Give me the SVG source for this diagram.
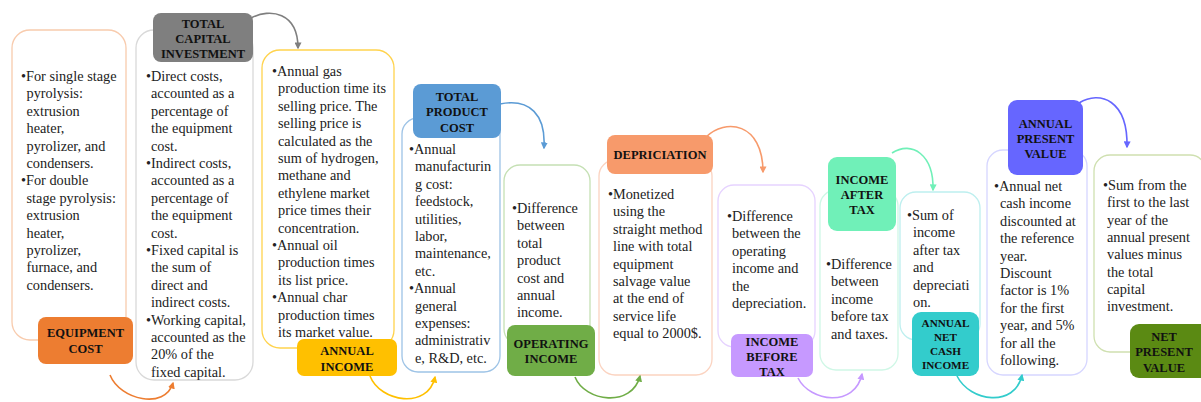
<svg xmlns="http://www.w3.org/2000/svg" width="1201" height="402" viewBox="0 0 1201 402">
<defs>
<style>
.panel{fill:#fff;stroke-width:1.3}
.t{font-family:"Liberation Serif","Times New Roman",serif;font-size:14.3px;fill:#222}
.lb{font-family:"Liberation Serif","Times New Roman",serif;font-size:12.5px;font-weight:bold;fill:#111;text-anchor:middle}
.c{fill:none;stroke-width:1.6}
</style>
<marker id="m1" viewBox="0 0 10 10" refX="8" refY="5" markerWidth="7" markerHeight="7" markerUnits="userSpaceOnUse" orient="auto"><path d="M0,0L10,5L0,10z" fill="#ED7D31"/></marker>
<marker id="m2" viewBox="0 0 10 10" refX="8" refY="5" markerWidth="7" markerHeight="7" markerUnits="userSpaceOnUse" orient="auto"><path d="M0,0L10,5L0,10z" fill="#7F7F7F"/></marker>
<marker id="m3" viewBox="0 0 10 10" refX="8" refY="5" markerWidth="7" markerHeight="7" markerUnits="userSpaceOnUse" orient="auto"><path d="M0,0L10,5L0,10z" fill="#FFC000"/></marker>
<marker id="m4" viewBox="0 0 10 10" refX="8" refY="5" markerWidth="7" markerHeight="7" markerUnits="userSpaceOnUse" orient="auto"><path d="M0,0L10,5L0,10z" fill="#5B9BD5"/></marker>
<marker id="m5" viewBox="0 0 10 10" refX="8" refY="5" markerWidth="7" markerHeight="7" markerUnits="userSpaceOnUse" orient="auto"><path d="M0,0L10,5L0,10z" fill="#70AD47"/></marker>
<marker id="m6" viewBox="0 0 10 10" refX="8" refY="5" markerWidth="7" markerHeight="7" markerUnits="userSpaceOnUse" orient="auto"><path d="M0,0L10,5L0,10z" fill="#F79A6B"/></marker>
<marker id="m7" viewBox="0 0 10 10" refX="8" refY="5" markerWidth="7" markerHeight="7" markerUnits="userSpaceOnUse" orient="auto"><path d="M0,0L10,5L0,10z" fill="#C699FF"/></marker>
<marker id="m8" viewBox="0 0 10 10" refX="8" refY="5" markerWidth="7" markerHeight="7" markerUnits="userSpaceOnUse" orient="auto"><path d="M0,0L10,5L0,10z" fill="#70F0B8"/></marker>
<marker id="m9" viewBox="0 0 10 10" refX="8" refY="5" markerWidth="7" markerHeight="7" markerUnits="userSpaceOnUse" orient="auto"><path d="M0,0L10,5L0,10z" fill="#33CCCC"/></marker>
<marker id="m10" viewBox="0 0 10 10" refX="8" refY="5" markerWidth="7" markerHeight="7" markerUnits="userSpaceOnUse" orient="auto"><path d="M0,0L10,5L0,10z" fill="#6666FF"/></marker>
</defs>
<rect width="1201" height="402" fill="#fff"/>

<g id="equipment-cost">
<rect class="panel" x="12" y="30" width="114" height="310" rx="18" stroke="#F8CBAD"/>
<text class="t"><tspan x="21" y="81">•For single stage</tspan><tspan x="26.5" dy="17.4">pyrolysis:</tspan><tspan x="26.5" dy="17.4">extrusion</tspan><tspan x="26.5" dy="17.4">heater,</tspan><tspan x="26.5" dy="17.4">pyrolizer, and</tspan><tspan x="26.5" dy="17.4">condensers.</tspan><tspan x="21" dy="17.4">•For double</tspan><tspan x="26.5" dy="17.4">stage pyrolysis:</tspan><tspan x="26.5" dy="17.4">extrusion</tspan><tspan x="26.5" dy="17.4">heater,</tspan><tspan x="26.5" dy="17.4">pyrolizer,</tspan><tspan x="26.5" dy="17.4">furnace, and</tspan><tspan x="26.5" dy="17.4">condensers.</tspan></text>
<rect x="38" y="317" width="95" height="47" rx="8" fill="#ED7D31"/>
<text class="lb"><tspan x="85.5" y="337">EQUIPMENT</tspan><tspan x="85.5" dy="16">COST</tspan></text>
</g>

<g id="total-capital-investment">
<rect class="panel" x="136" y="30" width="117" height="350" rx="18" stroke="#D9D9D9"/>
<text class="t"><tspan x="146" y="81">•Direct costs,</tspan><tspan x="151" dy="17.4">accounted as a</tspan><tspan x="151" dy="17.4">percentage of</tspan><tspan x="151" dy="17.4">the equipment</tspan><tspan x="151" dy="17.4">cost.</tspan><tspan x="146" dy="17.4">•Indirect costs,</tspan><tspan x="151" dy="17.4">accounted as a</tspan><tspan x="151" dy="17.4">percentage of</tspan><tspan x="151" dy="17.4">the equipment</tspan><tspan x="151" dy="17.4">cost.</tspan><tspan x="146" dy="17.4">•Fixed capital is</tspan><tspan x="151" dy="17.4">the sum of</tspan><tspan x="151" dy="17.4">direct and</tspan><tspan x="151" dy="17.4">indirect costs.</tspan><tspan x="146" dy="17.4">•Working capital,</tspan><tspan x="151" dy="17.4">accounted as the</tspan><tspan x="151" dy="17.4">20% of the</tspan><tspan x="151" dy="17.4">fixed capital.</tspan></text>
<rect x="153" y="13" width="100" height="49" rx="8" fill="#7F7F7F"/>
<text class="lb"><tspan x="203" y="27.5">TOTAL</tspan><tspan x="203" dy="15">CAPITAL</tspan><tspan x="203" dy="15">INVESTMENT</tspan></text>
</g>

<g id="annual-income">
<rect class="panel" x="262" y="50" width="132" height="298" rx="18" stroke="#FFD34D"/>
<text class="t"><tspan x="272" y="76">•Annual gas</tspan><tspan x="278" dy="17.4">production time its</tspan><tspan x="278" dy="17.4">selling price. The</tspan><tspan x="278" dy="17.4">selling price is</tspan><tspan x="278" dy="17.4">calculated as the</tspan><tspan x="278" dy="17.4">sum of hydrogen,</tspan><tspan x="278" dy="17.4">methane and</tspan><tspan x="278" dy="17.4">ethylene market</tspan><tspan x="278" dy="17.4">price times their</tspan><tspan x="278" dy="17.4">concentration.</tspan><tspan x="272" dy="17.4">•Annual oil</tspan><tspan x="278" dy="17.4">production times</tspan><tspan x="278" dy="17.4">its list price.</tspan><tspan x="272" dy="17.4">•Annual char</tspan><tspan x="278" dy="17.4">production times</tspan><tspan x="278" dy="17.4">its market value.</tspan></text>
<rect x="297" y="339" width="100" height="37" rx="7" fill="#FFC000"/>
<text class="lb"><tspan x="347" y="354.5">ANNUAL</tspan><tspan x="347" dy="16">INCOME</tspan></text>
</g>

<g id="total-product-cost">
<rect class="panel" x="402" y="118" width="98" height="254" rx="16" stroke="#9DC3E6"/>
<text class="t"><tspan x="409" y="154">•Annual</tspan><tspan x="415" dy="17.4">manufacturin</tspan><tspan x="415" dy="17.4">g cost:</tspan><tspan x="415" dy="17.4">feedstock,</tspan><tspan x="415" dy="17.4">utilities,</tspan><tspan x="415" dy="17.4">labor,</tspan><tspan x="415" dy="17.4">maintenance,</tspan><tspan x="415" dy="17.4">etc.</tspan><tspan x="409" dy="17.4">•Annual</tspan><tspan x="415" dy="17.4">general</tspan><tspan x="415" dy="17.4">expenses:</tspan><tspan x="415" dy="17.4">administrativ</tspan><tspan x="415" dy="17.4">e, R&amp;D, etc.</tspan></text>
<rect x="413" y="84" width="88" height="54" rx="8" fill="#5B9BD5"/>
<text class="lb"><tspan x="457" y="100.5">TOTAL</tspan><tspan x="457" dy="15.5">PRODUCT</tspan><tspan x="457" dy="15.5">COST</tspan></text>
</g>

<g id="operating-income">
<rect class="panel" x="504" y="165" width="86" height="180" rx="16" stroke="#C5E0B4"/>
<text class="t"><tspan x="512" y="213">•Difference</tspan><tspan x="517" dy="17.4">between</tspan><tspan x="517" dy="17.4">total</tspan><tspan x="517" dy="17.4">product</tspan><tspan x="517" dy="17.4">cost and</tspan><tspan x="517" dy="17.4">annual</tspan><tspan x="517" dy="17.4">income.</tspan></text>
<rect x="507" y="325" width="88" height="51" rx="8" fill="#70AD47"/>
<text class="lb"><tspan x="551" y="347.5">OPERATING</tspan><tspan x="551" dy="15.5">INCOME</tspan></text>
</g>

<g id="depriciation">
<rect class="panel" x="599" y="160" width="113" height="215" rx="16" stroke="#FBD3C0"/>
<text class="t"><tspan x="608" y="199">•Monetized</tspan><tspan x="613" dy="17.4">using the</tspan><tspan x="613" dy="17.4">straight method</tspan><tspan x="613" dy="17.4">line with total</tspan><tspan x="613" dy="17.4">equipment</tspan><tspan x="613" dy="17.4">salvage value</tspan><tspan x="613" dy="17.4">at the end of</tspan><tspan x="613" dy="17.4">service life</tspan><tspan x="613" dy="17.4">equal to 2000$.</tspan></text>
<rect x="607" y="135" width="106" height="39" rx="8" fill="#F79A6B"/>
<text class="lb"><tspan x="660" y="159">DEPRICIATION</tspan></text>
</g>

<g id="income-before-tax">
<rect class="panel" x="718" y="185" width="97" height="162" rx="16" stroke="#E6D3FF"/>
<text class="t"><tspan x="727" y="221">•Difference</tspan><tspan x="732" dy="17.4">between the</tspan><tspan x="732" dy="17.4">operating</tspan><tspan x="732" dy="17.4">income and</tspan><tspan x="732" dy="17.4">the</tspan><tspan x="732" dy="17.4">depreciation.</tspan></text>
<rect x="731" y="334" width="82" height="43" rx="7" fill="#C699FF"/>
<text class="lb"><tspan x="772" y="345.5">INCOME</tspan><tspan x="772" dy="15">BEFORE</tspan><tspan x="772" dy="15">TAX</tspan></text>
</g>

<g id="income-after-tax">
<rect class="panel" x="820" y="190" width="78" height="180" rx="16" stroke="#CFF7E6"/>
<text class="t"><tspan x="826" y="269">•Difference</tspan><tspan x="831" dy="17.4">between</tspan><tspan x="831" dy="17.4">income</tspan><tspan x="831" dy="17.4">before tax</tspan><tspan x="831" dy="17.4">and taxes.</tspan></text>
<rect x="828" y="157" width="68" height="74" rx="9" fill="#70F0B8"/>
<text class="lb"><tspan x="862" y="183.5">INCOME</tspan><tspan x="862" dy="15">AFTER</tspan><tspan x="862" dy="15">TAX</tspan></text>
</g>

<g id="annual-net-cash-income">
<rect class="panel" x="900" y="192" width="80" height="148" rx="16" stroke="#BDEFEF"/>
<text class="t"><tspan x="907" y="220">•Sum of</tspan><tspan x="913" dy="17.4">income</tspan><tspan x="913" dy="17.4">after tax</tspan><tspan x="913" dy="17.4">and</tspan><tspan x="913" dy="17.4">depreciati</tspan><tspan x="913" dy="17.4">on.</tspan></text>
<rect x="912" y="312" width="67" height="64" rx="9" fill="#33CCCC"/>
<text class="lb" style="font-size:11.2px"><tspan x="945.5" y="327">ANNUAL</tspan><tspan x="945.5" dy="14">NET</tspan><tspan x="945.5" dy="14">CASH</tspan><tspan x="945.5" dy="14">INCOME</tspan></text>
</g>

<g id="annual-present-value">
<rect class="panel" x="987" y="150" width="100" height="225" rx="16" stroke="#D6D6FF"/>
<text class="t"><tspan x="994" y="191">•Annual net</tspan><tspan x="1000" dy="17.4">cash income</tspan><tspan x="1000" dy="17.4">discounted at</tspan><tspan x="1000" dy="17.4">the reference</tspan><tspan x="1000" dy="17.4">year.</tspan><tspan x="1000" dy="17.4">Discount</tspan><tspan x="1000" dy="17.4">factor is 1%</tspan><tspan x="1000" dy="17.4">for the first</tspan><tspan x="1000" dy="17.4">year, and 5%</tspan><tspan x="1000" dy="17.4">for all the</tspan><tspan x="1000" dy="17.4">following.</tspan></text>
<rect x="1008" y="100" width="75" height="75" rx="9" fill="#6666FF"/>
<text class="lb"><tspan x="1045.5" y="127.5">ANNUAL</tspan><tspan x="1045.5" dy="15">PRESENT</tspan><tspan x="1045.5" dy="15">VALUE</tspan></text>
</g>

<g id="net-present-value">
<rect class="panel" x="1094" y="155" width="112" height="197" rx="16" stroke="#CFE0B0"/>
<text class="t"><tspan x="1103" y="190">•Sum from the</tspan><tspan x="1107" dy="17.3">first to the last</tspan><tspan x="1107" dy="17.3">year of the</tspan><tspan x="1107" dy="17.3">annual present</tspan><tspan x="1107" dy="17.3">values minus</tspan><tspan x="1107" dy="17.3">the total</tspan><tspan x="1107" dy="17.3">capital</tspan><tspan x="1107" dy="17.3">investment.</tspan></text>
<rect x="1130" y="324" width="80" height="54" rx="9" fill="#5B8A13"/>
<text class="lb"><tspan x="1164" y="340.5">NET</tspan><tspan x="1164" dy="15.5">PRESENT</tspan><tspan x="1164" dy="15.5">VALUE</tspan></text>
</g>

<g id="connectors">
<path class="c" stroke="#ED7D31" d="M110,375 C120,400 165,410 173,383" marker-end="url(#m1)"/>
<path class="c" stroke="#7F7F7F" d="M251,18 C270,8 298,12 298,48" marker-end="url(#m2)"/>
<path class="c" stroke="#FFC000" d="M370,376 C380,402 428,410 435,377" marker-end="url(#m3)"/>
<path class="c" stroke="#5B9BD5" d="M500,104 C530,98 546,115 544,148" marker-end="url(#m4)"/>
<path class="c" stroke="#70AD47" d="M575,377 C585,402 632,408 640,376" marker-end="url(#m5)"/>
<path class="c" stroke="#F79A6B" d="M706,137 C725,118 763,122 763,172" marker-end="url(#m6)"/>
<path class="c" stroke="#C699FF" d="M798,378 C810,402 855,408 862,374" marker-end="url(#m7)"/>
<path class="c" stroke="#70F0B8" d="M892,153 C912,140 934,155 933,190" marker-end="url(#m8)"/>
<path class="c" stroke="#33CCCC" d="M957,376 C970,402 1015,408 1022,375" marker-end="url(#m9)"/>
<path class="c" stroke="#6666FF" d="M1079,103 C1100,90 1128,100 1127,147" marker-end="url(#m10)"/>
</g>
</svg>
